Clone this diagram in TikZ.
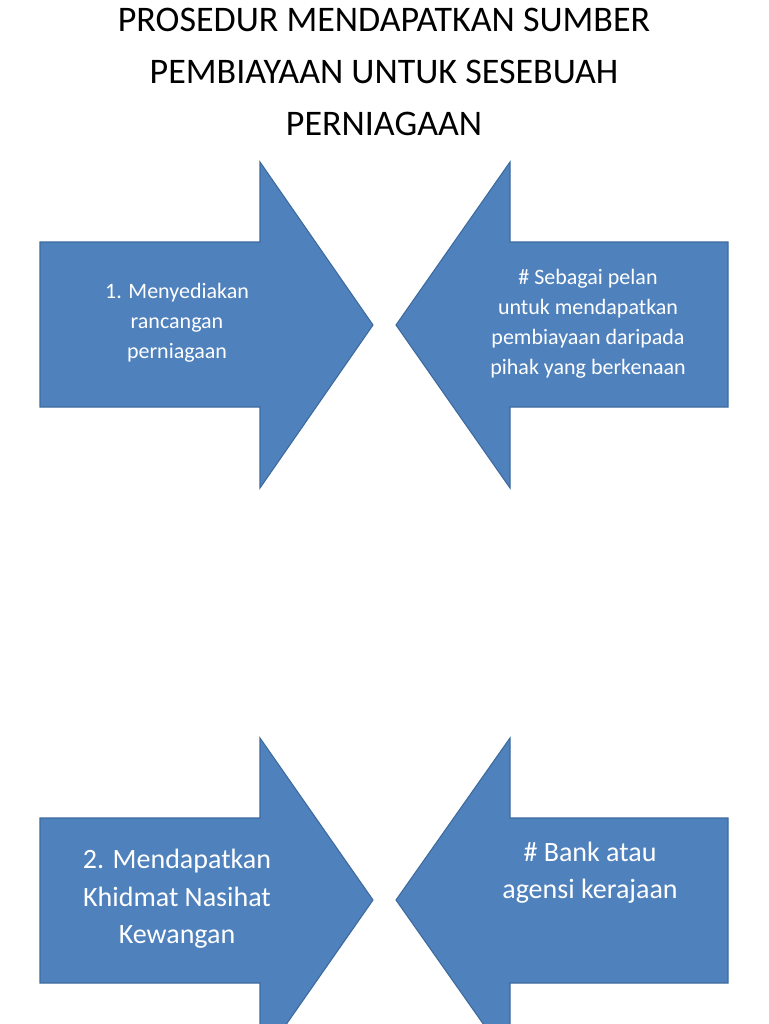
\documentclass[tikz,border=0pt]{standalone}
\usepackage{fontspec}
\setmainfont{Carlito}
\begin{document}
\begin{tikzpicture}[x=0.75pt,y=-0.75pt,
  arr/.style={fill=arrowblue,draw=arrowedge,line width=0.8pt},
  small/.style={text=white,align=center,font=\fontsize{16.5}{22.5}\selectfont},
  big/.style={text=white,align=center,font=\fontsize{21}{28}\selectfont}]
\definecolor{arrowblue}{HTML}{4F81BD}
\definecolor{arrowedge}{HTML}{3C6A9E}
\useasboundingbox (0,0) rectangle (768,1024);
\clip (0,0) rectangle (768,1024);
\node[align=center,font=\fontsize{27}{39}\selectfont] (title) at (384,72) {PROSEDUR MENDAPATKAN SUMBER\\PEMBIAYAAN UNTUK SESEBUAH\\PERNIAGAAN};
\draw[arr] (40,242) -- (260,242) -- (260,162) -- (373,325) -- (260,488) -- (260,407) -- (40,407) -- cycle;
\draw[arr] (728,242) -- (510,242) -- (510,162) -- (396,325) -- (510,488) -- (510,407) -- (728,407) -- cycle;
\draw[arr] (40,818) -- (260,818) -- (260,738) -- (373,900) -- (260,1062) -- (260,983) -- (40,983) -- cycle;
\draw[arr] (728,818) -- (510,818) -- (510,738) -- (396,900) -- (510,1062) -- (510,983) -- (728,983) -- cycle;
\node[small] (t1) at (177,323) {1. Menyediakan\\rancangan\\perniagaan};
\node[small] (t2) at (588,324) {\# Sebagai pelan\\untuk mendapatkan\\pembiayaan daripada\\pihak yang berkenaan};
\node[big] (t3) at (177,899) {2. Mendapatkan\\Khidmat Nasihat\\Kewangan};
\node[big] (t4) at (590,873) {\# Bank atau\\agensi kerajaan};
\end{tikzpicture}
\end{document}
